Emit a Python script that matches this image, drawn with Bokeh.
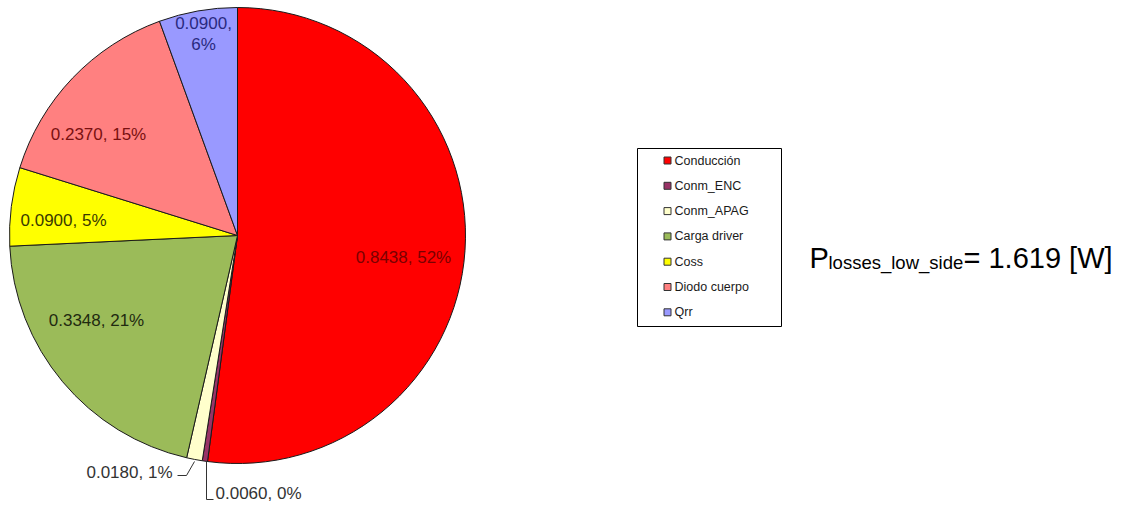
import math
from bokeh.plotting import figure
from bokeh.models import Range1d, ColumnDataSource
from bokeh.core.properties import value
from bokeh.embed import file_html
from bokeh.resources import INLINE

# ---------------- data ----------------
categories = ["Conducción", "Conm_ENC", "Conm_APAG", "Carga driver", "Coss", "Diodo cuerpo", "Qrr"]
losses_w = [0.8438, 0.0060, 0.0180, 0.3348, 0.0900, 0.2370, 0.0900]
percent_shown = [52, 0, 1, 21, 5, 15, 6]
total_w = 1.619

# ---------------- styles ----------------
slice_colors = ["#FF0000", "#993366", "#FFFFCC", "#9BBB59", "#FFFF00", "#FF8080", "#9999FF"]
label_colors = ["#7a0000", "#333333", "#333333", "#1f2a10", "#3a3a00", "#7a1010", "#2a2a80"]

W, H = 1116, 505
FONT = "Liberation Sans"


def px(x):
    return x


def py(y):
    return H - y


p = figure(width=W, height=H, output_backend="svg", toolbar_location=None,
           x_range=Range1d(0, W), y_range=Range1d(0, H),
           x_axis_type=None, y_axis_type=None, min_border=0)
p.outline_line_color = None
p.grid.visible = False
p.background_fill_color = "white"

# ---------------- pie ----------------
cx, cy, R = px(237), py(235), 228
tot = sum(losses_w)
starts, ends = [], []
cum = 0.0
for v in losses_w:
    a0 = math.pi / 2 - 2 * math.pi * cum / tot
    cum += v
    a1 = math.pi / 2 - 2 * math.pi * cum / tot
    starts.append(a1)
    ends.append(a0)

src = ColumnDataSource(dict(start=starts, end=ends, color=slice_colors, name=categories))
p.wedge(x=cx, y=cy, radius=R, start_angle="start", end_angle="end", direction="anticlock",
        fill_color="color", line_color="#1a1a1a", line_width=1, source=src)

# ---------------- data labels ----------------
labels = [f"{v:.4f}, {pc}%" for v, pc in zip(losses_w, percent_shown)]
LFS = "17px"
# label anchor positions (page px) - layout
lab_pos = {
    0: (403, 257),
    3: (96, 320),
    4: (63, 220),
    5: (98, 134),
}
lx = [px(lab_pos[i][0]) for i in lab_pos]
ly = [py(lab_pos[i][1]) for i in lab_pos]
lt = [labels[i] for i in lab_pos]
lc = [label_colors[i] for i in lab_pos]
p.text(x=lx, y=ly, text=lt, text_color=lc, text_font=value(FONT), text_font_size=LFS,
       text_align="center", text_baseline="middle")

# Qrr label on two lines
q_lines = [f"{losses_w[6]:.4f},", f"{percent_shown[6]}%"]
p.text(x=[px(203), px(203)], y=[py(22), py(44)], text=q_lines, text_color=label_colors[6],
       text_font=value(FONT), text_font_size=LFS, text_align="center", text_baseline="middle")

# Conm_APAG outside label with leader
p.text(x=[px(172)], y=[py(472)], text=[labels[2]], text_color="#333333",
       text_font=value(FONT), text_font_size=LFS, text_align="right", text_baseline="middle")
p.line(x=[px(177), px(186), px(194)], y=[py(475), py(475), py(461)], line_color="#333333", line_width=1)

# Conm_ENC outside label with leader
p.text(x=[px(215)], y=[py(493)], text=[labels[1]], text_color="#333333",
       text_font=value(FONT), text_font_size=LFS, text_align="left", text_baseline="middle")
p.line(x=[px(206), px(206), px(213)], y=[py(461), py(499), py(499)], line_color="#333333", line_width=1)

# ---------------- legend (manual, Excel style) ----------------
p.quad(left=px(637), right=px(781), top=py(148), bottom=py(326),
       fill_color="white", line_color="#000000", line_width=1)
leg_y = [py(160 + i * 25.3) for i in range(len(categories))]
p.scatter(x=[px(667)] * len(categories), y=leg_y, marker="square", size=7,
          fill_color=slice_colors, line_color="#333333", line_width=1)
p.text(x=[px(674)] * len(categories), y=leg_y, text=categories, text_color="#1a1a1a",
       text_font=value(FONT), text_font_size="12.5px", text_align="left", text_baseline="middle")

# ---------------- total annotation ----------------
p.text(x=[px(809)], y=[py(257)], text=["P"], text_color="black", text_font=value(FONT),
       text_font_size="29px", text_align="left", text_baseline="alphabetic")
p.text(x=[px(828)], y=[py(262)], text=["losses_low_side"], text_color="black", text_font=value(FONT),
       text_font_size="18.5px", text_align="left", text_baseline="alphabetic")
p.text(x=[px(963)], y=[py(257)], text=[f"= {total_w:.3f} [W]"], text_color="black", text_font=value(FONT),
       text_font_size="29px", text_align="left", text_baseline="alphabetic")

open("out.html", "w").write(file_html(p, INLINE))
